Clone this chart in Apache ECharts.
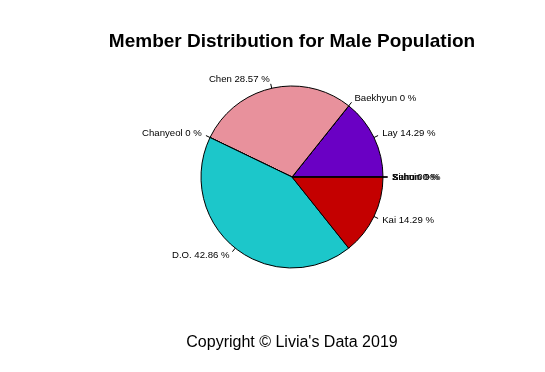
<!DOCTYPE html>
<html><head><meta charset="utf-8">
<script src="https://cdn.jsdelivr.net/npm/echarts@6/dist/echarts.min.js"></script>
<style>html,body{margin:0;padding:0;background:#fff}#c{width:545px;height:372px}</style>
</head><body><div id="c"></div>
<script>
var members = ["Xiumin","Suho","Lay","Baekhyun","Chen","Chanyeol","D.O.","Kai","Sehun"];
var shares = [0, 0, 14.29, 0, 28.57, 0, 42.86, 14.29, 0];
var colors = ["#FFFFFF","#FFFFFF","#6A00C4","#FFFFFF","#E8919C","#FFFFFF","#1CC7CA","#C40000","#FFFFFF"];
var titleText = "Member Distribution for Male Population";
var captionText = "Copyright \u00a9 Livia's Data 2019";

var R = 91;
var common = {
  type:'pie', center:[292,177], radius:[0,R], startAngle:0, clockwise:false,
  avoidLabelOverlap:false, minShowLabelAngle:0, stillShowZeroSum:true,
  emphasis:{disabled:true}, labelLayout:{hideOverlap:false}
};
var chart = echarts.init(document.getElementById('c'), null, {renderer:'canvas'});
chart.setOption({
  animation:false,
  backgroundColor:'#fff',
  title:[
    {text:titleText, left:292, top:32, textAlign:'center', padding:0,
     textStyle:{fontFamily:'Liberation Sans', fontWeight:'bold', fontSize:19, color:'#000'}},
    {text:captionText, left:292, top:335, textAlign:'center', padding:0,
     textStyle:{fontFamily:'Liberation Sans', fontWeight:'normal', fontSize:16, color:'#000'}}
  ],
  series:[
    Object.assign({}, common, {
      itemStyle:{borderColor:'#000', borderWidth:1},
      label:{show:true, position:'outside', formatter:' ', fontSize:9, color:'rgba(0,0,0,0)', distanceToLabelLine:0},
      labelLine:{show:true, length:R*0.05, length2:0, smooth:false, lineStyle:{color:'#000', width:1}},
      data: members.map(function(m,i){return {name:m, value:shares[i], itemStyle:{color:colors[i]}};})
    }),
    Object.assign({}, common, {
      z:3,
      itemStyle:{color:'rgba(0,0,0,0)', borderWidth:0},
      label:{show:true, position:'outside', formatter:function(p){return p.name+' '+p.value+' %';},
        fontFamily:'Liberation Sans', fontSize:9.6, color:'#000', distanceToLabelLine:0},
      labelLine:{show:false, length:R*0.1, length2:0},
      data: members.map(function(m,i){return {name:m, value:shares[i]};})
    })
  ]
});
</script></body></html>
